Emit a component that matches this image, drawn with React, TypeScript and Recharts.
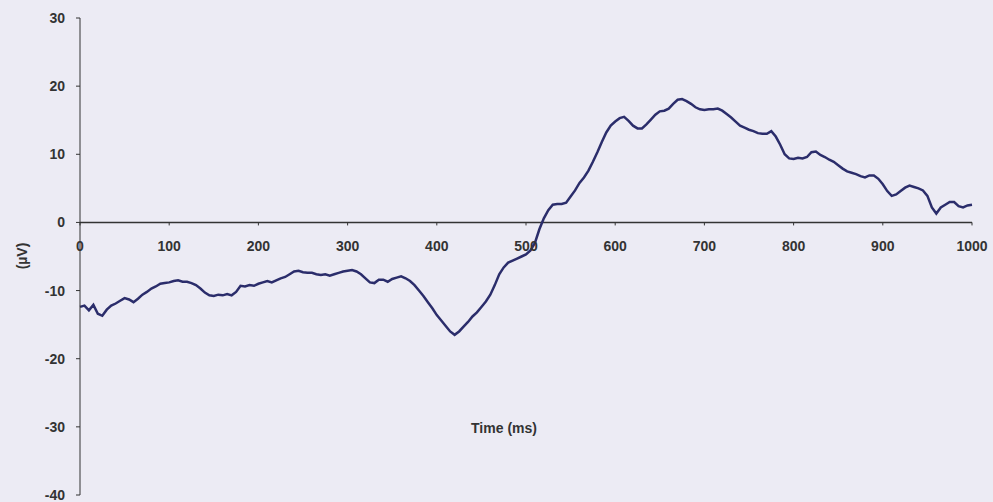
import { LineChart, Line, XAxis, YAxis, ReferenceLine, ReferenceDot } from 'recharts'

// ERP waveform, every 5 ms
const timeMs = Array.from({ length: 201 }, (_, i) => i * 5)
const amplitude = [
  -12.4, -12.2, -12.9, -12.1, -13.4, -13.7, -12.8, -12.2, -11.9, -11.5,
  -11.1, -11.3, -11.7, -11.2, -10.6, -10.2, -9.7, -9.4, -9.0, -8.9,
  -8.8, -8.6, -8.5, -8.7, -8.7, -8.9, -9.2, -9.7, -10.3, -10.7,
  -10.8, -10.6, -10.7, -10.5, -10.7, -10.2, -9.3, -9.4, -9.2, -9.3,
  -9.0, -8.8, -8.6, -8.8, -8.5, -8.2, -8.0, -7.6, -7.2, -7.1,
  -7.3, -7.4, -7.4, -7.6, -7.7, -7.6, -7.8, -7.6, -7.4, -7.2,
  -7.1, -7.0, -7.2, -7.6, -8.2, -8.8, -8.9, -8.4, -8.4, -8.7,
  -8.3, -8.1, -7.9, -8.2, -8.6, -9.2, -10.0, -10.8, -11.7, -12.6,
  -13.6, -14.4, -15.2, -16.0, -16.5, -16.0, -15.3, -14.6, -13.8, -13.2,
  -12.4, -11.6, -10.6, -9.2, -7.6, -6.6, -5.9, -5.6, -5.3, -5.0,
  -4.7, -4.1, -3.0, -1.0, 0.6, 1.8, 2.6, 2.7, 2.7, 2.9,
  3.8, 4.7, 5.8, 6.6, 7.6, 8.9, 10.3, 11.8, 13.2, 14.2,
  14.8, 15.3, 15.5, 14.9, 14.2, 13.8, 13.8, 14.4, 15.1, 15.8,
  16.3, 16.4, 16.7, 17.4, 18.0, 18.1, 17.8, 17.4, 16.9, 16.6,
  16.5, 16.6, 16.6, 16.7, 16.4, 15.9, 15.4, 14.8, 14.2, 13.9,
  13.6, 13.4, 13.1, 13.0, 13.0, 13.4, 12.6, 11.4, 10.0, 9.4,
  9.3, 9.5, 9.4, 9.6, 10.3, 10.4, 9.9, 9.6, 9.2, 8.9,
  8.4, 7.9, 7.5, 7.3, 7.1, 6.8, 6.6, 6.9, 6.9, 6.4,
  5.6, 4.6, 3.9, 4.1, 4.6, 5.1, 5.4, 5.2, 5.0, 4.7,
  3.9, 2.2, 1.3, 2.2, 2.6, 3.0, 3.0, 2.4, 2.2, 2.5,
  2.6,
]
const xTicks = [0, 100, 200, 300, 400, 500, 600, 700, 800, 900, 1000]
const yTicks = [-40, -30, -20, -10, 0, 10, 20, 30]

const data = timeMs.map((t, i) => ({ t, v: amplitude[i] }))

const FONT = '"Liberation Sans", Arial, sans-serif'
const AXIS = '#333333'

function XTick(props: any) {
  const { cx, cy, label } = props
  return (
    <g>
      <line x1={cx} y1={cy} x2={cx} y2={cy + 3} stroke={AXIS} strokeWidth={1} />
      <text
        x={cx}
        y={cy + 25}
        textAnchor="middle"
        dominantBaseline="middle"
        fill={AXIS}
        fontSize={14}
        fontWeight="bold"
        fontFamily={FONT}
      >
        {label}
      </text>
    </g>
  )
}

export default function App() {
  return (
    <div
      style={{
        position: 'absolute',
        left: 0,
        top: 0,
        width: 993,
        height: 502,
        background: '#ecebf4',
        fontFamily: FONT,
      }}
    >
      <LineChart width={993} height={502} data={data} margin={{ top: 18, right: 21, bottom: 7, left: 0 }}>
        <XAxis dataKey="t" type="number" domain={[0, 1000]} hide />
        <YAxis
          type="number"
          domain={[-40, 30]}
          ticks={yTicks}
          interval={0}
          width={80}
          tickSize={4}
          tickMargin={11}
          stroke={AXIS}
          tickLine={{ stroke: AXIS }}
          tick={{ fill: AXIS, fontSize: 14, fontWeight: 'bold', fontFamily: FONT }}
        />
        <ReferenceLine y={0} stroke={AXIS} strokeWidth={1.5} />
        {xTicks.map((t) => (
          <ReferenceDot
            key={t}
            x={t}
            y={0}
            r={0}
            shape={(p: any) => <XTick {...p} label={String(t)} />}
          />
        ))}
        <Line
          type="linear"
          dataKey="v"
          stroke="#2b2d6b"
          strokeWidth={2.5}
          dot={false}
          isAnimationActive={false}
        />
      </LineChart>
      <div
        style={{
          position: 'absolute',
          left: 504,
          top: 428,
          transform: 'translate(-50%, -50%)',
          fontSize: 14,
          fontWeight: 'bold',
          color: AXIS,
          whiteSpace: 'nowrap',
        }}
      >
        Time (ms)
      </div>
      <div
        style={{
          position: 'absolute',
          left: 22,
          top: 256,
          transform: 'translate(-50%, -50%) rotate(-90deg)',
          fontSize: 14,
          fontWeight: 'bold',
          color: AXIS,
          whiteSpace: 'nowrap',
        }}
      >
        (µV)
      </div>
    </div>
  )
}
